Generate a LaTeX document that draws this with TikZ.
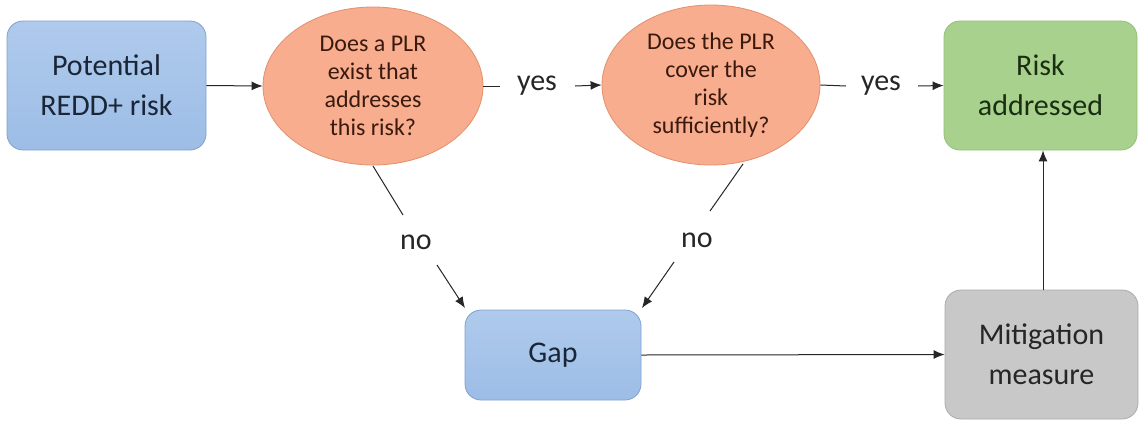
\documentclass[tikz,border=0pt]{standalone}
\usepackage{fontspec}
\setmainfont{Carlito}
\usetikzlibrary{shapes.geometric,arrows.meta}
\definecolor{bluefill}{HTML}{9DBDE6}
\definecolor{bluetop}{HTML}{AFCAEC}
\definecolor{blueline}{HTML}{7FA2CF}
\definecolor{bluetext}{HTML}{1A2638}
\definecolor{salfill}{HTML}{F7AD8E}
\definecolor{salline}{HTML}{E3906C}
\definecolor{saltext}{HTML}{3A1A0E}
\definecolor{grnfill}{HTML}{A8D18D}
\definecolor{grnline}{HTML}{93C078}
\definecolor{grntext}{HTML}{1B2E12}
\definecolor{gryfill}{HTML}{C8C8C8}
\definecolor{gryline}{HTML}{ABABAB}
\definecolor{grytext}{HTML}{262626}
\tikzset{
  box/.style={rectangle, rounded corners=16pt, align=center, inner sep=0pt,
    font=\fontsize{30}{40}\selectfont, line width=0.8pt},
  bluebox/.style={box, draw=blueline, top color=bluetop, bottom color=bluefill, text=bluetext},
  grnbox/.style={box, draw=grnline, fill=grnfill, text=grntext},
  grybox/.style={box, draw=gryline, fill=gryfill, text=grytext},
  question/.style={ellipse, draw=salline, fill=salfill, text=saltext, align=center,
    inner sep=0pt, line width=0.8pt, font=\fontsize{24}{28}\selectfont},
  lbl/.style={font=\fontsize{30}{36}\selectfont, text=black!85, inner sep=0pt},
  conn/.style={line width=1pt, draw=black!85},
  arr/.style={conn, -{Latex[length=11pt,width=9pt]}}
}
\begin{document}
\begin{tikzpicture}[x=1pt,y=-1pt]
\useasboundingbox (0,0) rectangle (1139,421);
\fill[white] (0,0) rectangle (1139,421);
\node[bluebox, minimum width=199pt, minimum height=129pt] (pot) at (106.5,85.5) {Potential\\REDD+ risk};
\node[question, minimum width=220pt, minimum height=158pt] (q1) at (373,86) {Does a PLR\\exist that\\addresses\\this risk?};
\node[question, minimum width=218pt, minimum height=160pt] (q2) at (711,85) {Does the PLR\\cover the\\risk\\sufficiently?};
\node[grnbox, minimum width=193pt, minimum height=129pt] (ra) at (1040.5,85.5) {Risk\\addressed};
\node[bluebox, minimum width=176pt, minimum height=90pt] (gap) at (553,355) {Gap};
\node[grybox, minimum width=193pt, minimum height=129pt] (mit) at (1041.5,354.5) {Mitigation\\measure};
\node[lbl] (yes1) at (537,86) {yes};
\node[lbl] (yes2) at (881,86) {yes};
\node[lbl] (no1) at (416,242) {no};
\node[lbl] (no2) at (697,240) {no};
\coordinate (y1a) at (500,86);
\coordinate (y1b) at (575,86);
\coordinate (y2a) at (846,86);
\coordinate (y2b) at (918,86);
\coordinate (n1a) at (403,215);
\coordinate (n1b) at (437,265);
\coordinate (n2a) at (710,211);
\coordinate (n2b) at (674,262);
\draw[arr] (pot.east) -- (q1.west);
\draw[conn] (q1.east) -- (y1a);
\draw[arr] (y1b) -- (q2.west);
\draw[conn] (q2.east) -- (y2a);
\draw[arr] (y2b) -- (ra.west);
\draw[conn] (373,166) -- (n1a);
\draw[arr] (n1b) -- (465,308);
\draw[conn] (743,164) -- (n2a);
\draw[arr] (n2b) -- (642,308);
\draw[arr] (gap.east) -- (mit.west);
\draw[arr] (mit.north -| 1043,0) -- (ra.south -| 1043,0);
\end{tikzpicture}
\end{document}
